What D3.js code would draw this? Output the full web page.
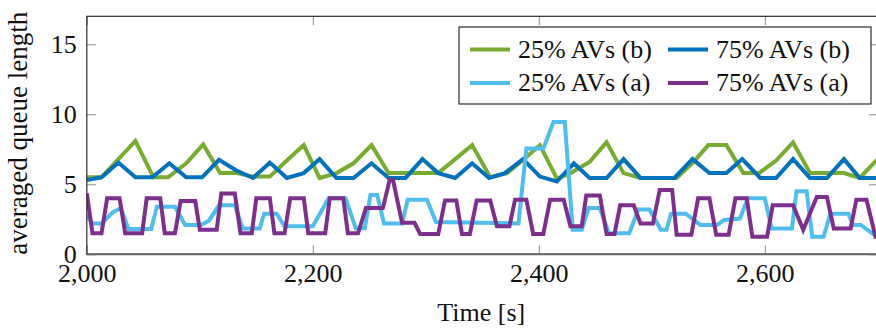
<!DOCTYPE html>
<html>
<head>
<meta charset="utf-8">
<script src="https://cdn.jsdelivr.net/npm/d3@7"></script>
<style>
  body { margin: 0; background: #fff; }
  svg { display: block; font-family: "Liberation Serif", "Times New Roman", serif; }
</style>
</head>
<body>
<svg id="chart" width="876" height="334"></svg>
<script>
//Series data (time [s], averaged queue length)
const t25b = [2000, 2013, 2043, 2059, 2072, 2088, 2103, 2118, 2133, 2147, 2162, 2177, 2192, 2206, 2221, 2236, 2252, 2267, 2311, 2326, 2341, 2357, 2372, 2387, 2401, 2416, 2428, 2445, 2460, 2475, 2490, 2522, 2537, 2550, 2566, 2581, 2595, 2610, 2625, 2640, 2670, 2684, 2700];
const v25b = [5.5, 5.5, 8.1, 5.5, 5.5, 6.5, 7.85, 5.8, 5.8, 5.55, 5.55, 6.7, 7.8, 5.45, 5.8, 6.5, 7.8, 5.8, 5.8, 6.8, 7.8, 5.5, 5.8, 6.8, 7.8, 5.4, 5.8, 6.6, 8.0, 5.8, 5.45, 5.45, 6.6, 7.8, 7.8, 5.8, 5.8, 6.7, 8.0, 5.8, 5.8, 5.45, 6.8];

const t75b = [2000, 2013, 2028, 2043, 2058, 2073, 2088, 2102, 2117, 2132, 2147, 2162, 2177, 2192, 2206, 2221, 2236, 2252, 2267, 2282, 2297, 2311, 2326, 2341, 2356, 2370, 2386, 2401, 2416, 2431, 2445, 2460, 2475, 2490, 2520, 2536, 2551, 2566, 2580, 2596, 2610, 2625, 2640, 2655, 2670, 2684, 2700];
const v75b = [5.3, 5.5, 6.55, 5.5, 5.5, 6.5, 5.5, 5.5, 6.75, 6.0, 5.45, 6.55, 5.45, 5.8, 6.8, 5.45, 5.45, 6.5, 5.45, 5.45, 6.8, 5.8, 5.45, 6.5, 5.45, 5.8, 6.8, 5.55, 5.2, 6.5, 5.45, 5.45, 6.8, 5.45, 5.45, 6.8, 5.8, 5.8, 6.8, 5.45, 5.45, 6.8, 5.45, 5.45, 6.8, 5.45, 5.45];

const t25a = [2000, 2005, 2013, 2023, 2030, 2037, 2057, 2062, 2078, 2087, 2101, 2108, 2117, 2131, 2138, 2153, 2157, 2168, 2175, 2200, 2214, 2229, 2238, 2246, 2251, 2257, 2263, 2279, 2284, 2301, 2309, 2382, 2389, 2404, 2413, 2423, 2430, 2438, 2444, 2454, 2462, 2480, 2488, 2498, 2508, 2513, 2517, 2530, 2543, 2558, 2564, 2578, 2585, 2600, 2606, 2624, 2628, 2637, 2642, 2652, 2658, 2674, 2678, 2685, 2695, 2700];
const v25a = [2.8, 2.2, 2.2, 3.0, 3.3, 1.8, 1.8, 3.4, 3.4, 2.1, 2.1, 2.4, 3.5, 3.5, 1.85, 1.85, 2.9, 2.9, 2.0, 2.0, 4.0, 4.0, 1.86, 1.86, 4.24, 4.24, 2.2, 2.2, 3.9, 3.9, 2.3, 2.2, 7.55, 7.55, 9.45, 9.45, 1.75, 1.75, 3.3, 3.3, 1.5, 1.5, 3.2, 3.2, 1.75, 1.75, 2.9, 2.9, 2.1, 2.1, 2.45, 2.55, 4.0, 4.0, 1.85, 1.85, 4.5, 4.5, 1.25, 1.25, 2.9, 2.9, 2.1, 2.1, 1.5, 1.3];

const t75a = [2000, 2005, 2013, 2018, 2029, 2034, 2049, 2053, 2065, 2069, 2078, 2083, 2096, 2100, 2115, 2119, 2131, 2136, 2146, 2150, 2162, 2166, 2175, 2180, 2192, 2196, 2211, 2215, 2227, 2231, 2240, 2247, 2262, 2268, 2271, 2279, 2290, 2295, 2311, 2317, 2327, 2332, 2339, 2345, 2357, 2363, 2374, 2379, 2389, 2395, 2404, 2410, 2422, 2428, 2438, 2442, 2454, 2460, 2467, 2472, 2484, 2490, 2501, 2507, 2518, 2522, 2535, 2541, 2551, 2557, 2568, 2574, 2584, 2589, 2602, 2607, 2625, 2634, 2646, 2655, 2661, 2676, 2681, 2690, 2698, 2700];
const v75a = [4.35, 1.5, 1.5, 4.0, 4.0, 1.5, 1.5, 4.0, 4.0, 1.5, 1.5, 3.8, 3.8, 1.75, 1.75, 4.35, 4.35, 1.5, 1.5, 4.0, 4.0, 1.5, 1.5, 4.0, 4.0, 1.5, 1.5, 4.0, 4.0, 1.5, 1.5, 3.3, 3.3, 5.3, 5.3, 2.25, 2.25, 1.45, 1.45, 3.85, 3.85, 1.45, 1.45, 3.85, 3.85, 2.0, 2.0, 3.9, 3.9, 1.45, 1.45, 3.9, 3.9, 2.0, 2.0, 4.2, 4.2, 1.45, 1.45, 3.5, 3.5, 2.2, 2.2, 4.6, 4.6, 1.4, 1.4, 4.0, 4.0, 1.4, 1.4, 4.0, 4.0, 1.25, 1.25, 3.5, 3.5, 1.75, 4.1, 4.1, 1.85, 1.85, 3.9, 3.9, 1.25, 1.25];

//Axis ticks and labels
const xTicks = [2000, 2200, 2400, 2600];
const yTicks = [0, 5, 10, 15];
const xLabel = "Time [s]";
const yLabel = "averaged queue length";

//Plot order = legend order (row-wise)
const series = [
  { name: "25% AVs (b)", t: t25b, v: v25b, color: "#77AC30" },
  { name: "75% AVs (b)", t: t75b, v: v75b, color: "#0072BD" },
  { name: "25% AVs (a)", t: t25a, v: v25a, color: "#4DBEEE" },
  { name: "75% AVs (a)", t: t75a, v: v75a, color: "#7E2F8E" },
];

//Scales ----------
const plotLeft = 86.8, plotRight = 877.8, plotTop = 16.3, plotBottom = 254.3;
const x = d3.scaleLinear().domain([2000, 2700]).range([plotLeft, plotRight]);
const y = d3.scaleLinear().domain([0, 17]).range([plotBottom, plotTop]);

const svg = d3.select("#chart");
const fontSize = 26;

//Clip to the axis box
svg.append("clipPath").attr("id", "plotclip")
  .append("rect")
  .attr("x", plotLeft).attr("y", plotTop)
  .attr("width", plotRight - plotLeft).attr("height", plotBottom - plotTop);

//Ticks (pointing inward, mirrored on top and right)
function styleAxis(g) {
  g.select(".domain").remove();
  g.selectAll(".tick line").attr("stroke", "#8c8c8c").attr("stroke-width", 1);
  g.selectAll(".tick text")
    .attr("fill", "#111")
    .style("font-size", fontSize + "px")
    .style("font-family", '"Liberation Serif", "Times New Roman", serif');
}

svg.append("g")
  .attr("transform", `translate(0,${plotBottom})`)
  .call(d3.axisBottom(x).tickValues(xTicks).tickFormat(d3.format(","))
    .tickSizeInner(-9).tickSizeOuter(0).tickPadding(9))
  .call(styleAxis);

svg.append("g")
  .attr("transform", `translate(0,${plotTop})`)
  .call(d3.axisTop(x).tickValues(xTicks).tickFormat("")
    .tickSizeInner(-9).tickSizeOuter(0))
  .call(styleAxis);

svg.append("g")
  .attr("transform", `translate(${plotLeft},0)`)
  .call(d3.axisLeft(y).tickValues(yTicks)
    .tickSizeInner(-9).tickSizeOuter(0).tickPadding(10))
  .call(styleAxis);

svg.append("g")
  .attr("transform", `translate(${plotRight},0)`)
  .call(d3.axisRight(y).tickValues(yTicks).tickFormat("")
    .tickSizeInner(-9).tickSizeOuter(0))
  .call(styleAxis);

//Lines
const line = d3.line()
  .x((d) => x(d[0]))
  .y((d) => y(d[1]));

svg.append("g")
  .attr("clip-path", "url(#plotclip)")
  .selectAll("path")
  .data(series)
  .join("path")
  .attr("d", (s) => line(d3.zip(s.t, s.v)))
  .attr("fill", "none")
  .attr("stroke", (s) => s.color)
  .attr("stroke-width", 4)
  .attr("stroke-linejoin", "miter");

//Axis frame
svg.append("rect")
  .attr("x", plotLeft).attr("y", plotTop)
  .attr("width", plotRight - plotLeft).attr("height", plotBottom - plotTop)
  .attr("fill", "none")
  .attr("stroke", "#2b2b2b")
  .attr("stroke-width", 1.2);
svg.append("line")
  .attr("x1", plotLeft).attr("x2", plotRight)
  .attr("y1", plotBottom).attr("y2", plotBottom)
  .attr("stroke", "#666").attr("stroke-width", 2);

//Axis labels
svg.append("text")
  .attr("x", (plotLeft + plotRight) / 2 - 1)
  .attr("y", 321)
  .attr("text-anchor", "middle")
  .style("font-size", fontSize + "px")
  .attr("fill", "#111")
  .text(xLabel);

svg.append("text")
  .attr("transform", `translate(27,${(plotTop + plotBottom) / 2 - 2}) rotate(-90)`)
  .attr("text-anchor", "middle")
  .style("font-size", "27px")
  .attr("fill", "#111")
  .text(yLabel);

//Legend (2 columns, filled row-wise)
const legend = svg.append("g");
legend.append("rect")
  .attr("x", 459).attr("y", 27)
  .attr("width", 412).attr("height", 77)
  .attr("fill", "#fff")
  .attr("stroke", "#2b2b2b")
  .attr("stroke-width", 1.2);

const colX = [470, 668];
const rowY = [49.5, 83];
const items = legend.selectAll("g.item")
  .data(series)
  .join("g")
  .attr("class", "item")
  .attr("transform", (d, i) => `translate(${colX[i % 2]},${rowY[Math.floor(i / 2)]})`);

items.append("line")
  .attr("x1", 0).attr("x2", 40)
  .attr("stroke", (d) => d.color)
  .attr("stroke-width", 4);

items.append("text")
  .attr("x", 48)
  .attr("y", 8)
  .style("font-size", fontSize + "px")
  .attr("fill", "#111")
  .text((d) => d.name);
</script>
</body>
</html>
